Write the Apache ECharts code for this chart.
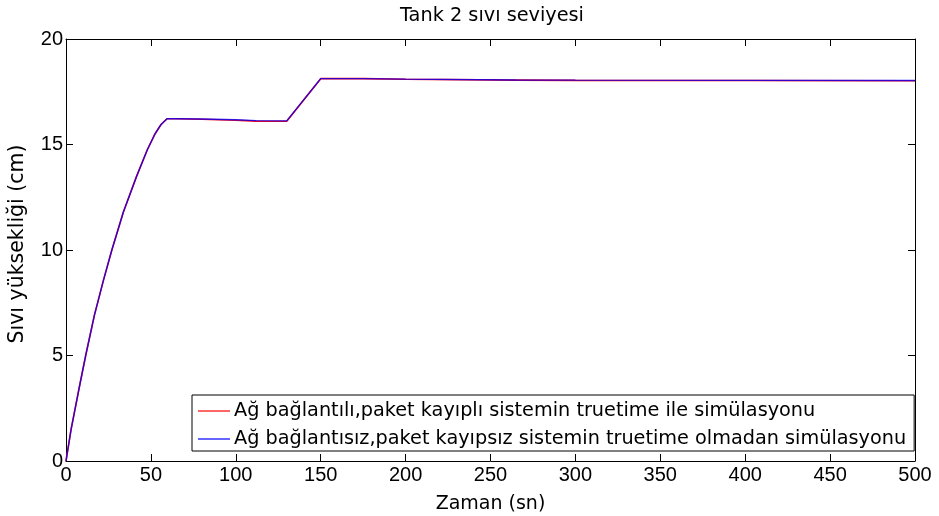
<!DOCTYPE html>
<html>
<head>
<meta charset="utf-8">
<script src="https://cdn.jsdelivr.net/npm/echarts@6/dist/echarts.min.js"></script>
<style>html,body{margin:0;padding:0;background:#fff}#c{width:939px;height:516px}</style>
</head>
<body>
<div id="c"></div>
<script>
const titleText = 'Tank 2 sıvı seviyesi';
const xName = 'Zaman (sn)';
const yName = 'Sıvı yüksekliği (cm)';
const seriesNames = ['Ağ bağlantılı,paket kayıplı sistemin truetime ile simülasyonu',
                     'Ağ bağlantısız,paket kayıpsız sistemin truetime olmadan simülasyonu'];
const xTicks = [0, 50, 100, 150, 200, 250, 300, 350, 400, 450, 500];
const yTicks = [0, 5, 10, 15, 20];

const timeA  = [0, 3, 7.6, 11.6, 16.7, 22, 27, 33.8, 41.6, 47.9, 52.4, 56, 59.5, 65, 80, 100, 112, 130, 150, 175, 200, 265, 300, 400, 500];
const levelA = [0, 1.5, 3.4, 5.0, 6.9, 8.55, 10.0, 11.8, 13.5, 14.75, 15.5, 15.95, 16.22, 16.22, 16.2, 16.15, 16.11, 16.1, 18.12, 18.12, 18.09, 18.05, 18.04, 18.03, 18.02];
const timeB  = [0, 3, 7.6, 11.6, 16.7, 22, 27, 33.8, 41.6, 47.9, 52.4, 56, 59.5, 65, 80, 100, 112, 130, 150, 175, 200, 265, 300, 400, 500];
const levelB = [0, 1.5, 3.4, 5.0, 6.9, 8.55, 10.0, 11.8, 13.5, 14.75, 15.5, 15.95, 16.22, 16.22, 16.21, 16.17, 16.13, 16.12, 18.12, 18.12, 18.1, 18.06, 18.05, 18.04, 18.03];

const tickFont = 'Arial, "Liberation Sans", Helvetica, sans-serif';
const textFont = '"DejaVu Sans", Arial, sans-serif';
const pairs = (xs, ys) => xs.map((x, i) => [x, ys[i]]);

const chart = echarts.init(document.getElementById('c'), null, {renderer: 'canvas'});
const axisLine = {show: true, onZero: false, lineStyle: {color: '#000', width: 1}};
const tick = {show: true, inside: true, length: 7, lineStyle: {color: '#000'}};
chart.setOption({
  animation: false,
  backgroundColor: '#fff',
  title: {
    text: titleText, left: 487, top: 1, textAlign: 'center',
    textStyle: {fontFamily: textFont, fontSize: 19.3, fontWeight: 'normal', color: '#000'}
  },
  grid: {left: 66, right: 24, top: 39, bottom: 55, outerBoundsMode: 'none', containLabel: false},
  legend: {
    orient: 'vertical', left: 192, top: 395,
    data: seriesNames.map(n => ({name: n, icon: 'rect'})),
    itemWidth: 32, itemHeight: 1.2, itemGap: 6,
    padding: [5, 8, 1, 6],
    borderColor: '#000', borderWidth: 1, backgroundColor: '#fff',
    textStyle: {fontFamily: textFont, fontSize: 19.25, lineHeight: 22, color: '#000', padding: [0, 0, 0, -1]}
  },
  xAxis: [{
    type: 'value', min: xTicks[0], max: xTicks[xTicks.length - 1], interval: 50,
    name: xName, nameLocation: 'middle', nameGap: 34,
    nameTextStyle: {fontFamily: textFont, fontSize: 19, color: '#000'},
    axisLine: axisLine, axisTick: tick,
    axisLabel: {fontFamily: tickFont, fontSize: 20, color: '#000', margin: 4},
    splitLine: {show: false}
  }, {
    type: 'value', position: 'top', min: xTicks[0], max: xTicks[xTicks.length - 1], interval: 50,
    axisLine: axisLine, axisTick: tick,
    axisLabel: {show: false}, splitLine: {show: false}
  }],
  yAxis: [{
    type: 'value', min: yTicks[0], max: yTicks[yTicks.length - 1], interval: 5,
    name: yName, nameLocation: 'middle', nameGap: 38, nameRotate: 90,
    nameTextStyle: {fontFamily: textFont, fontSize: 20.5, color: '#000', padding: [0, 0, 0, 12]},
    axisLine: axisLine, axisTick: tick,
    axisLabel: {fontFamily: tickFont, fontSize: 20, color: '#000', margin: 3},
    splitLine: {show: false}
  }, {
    type: 'value', position: 'right', min: yTicks[0], max: yTicks[yTicks.length - 1], interval: 5,
    axisLine: axisLine, axisTick: tick,
    axisLabel: {show: false}, splitLine: {show: false}
  }],
  series: [{
    name: seriesNames[0], type: 'line', data: pairs(timeA, levelA),
    showSymbol: false, symbol: 'none', color: '#ff0000',
    lineStyle: {color: '#ff0000', width: 1.6}
  }, {
    name: seriesNames[1], type: 'line', data: pairs(timeB, levelB),
    showSymbol: false, symbol: 'none', color: '#0000ff',
    lineStyle: {color: '#0000ff', width: 1.4, opacity: 0.8}
  }]
});
</script>
</body>
</html>
